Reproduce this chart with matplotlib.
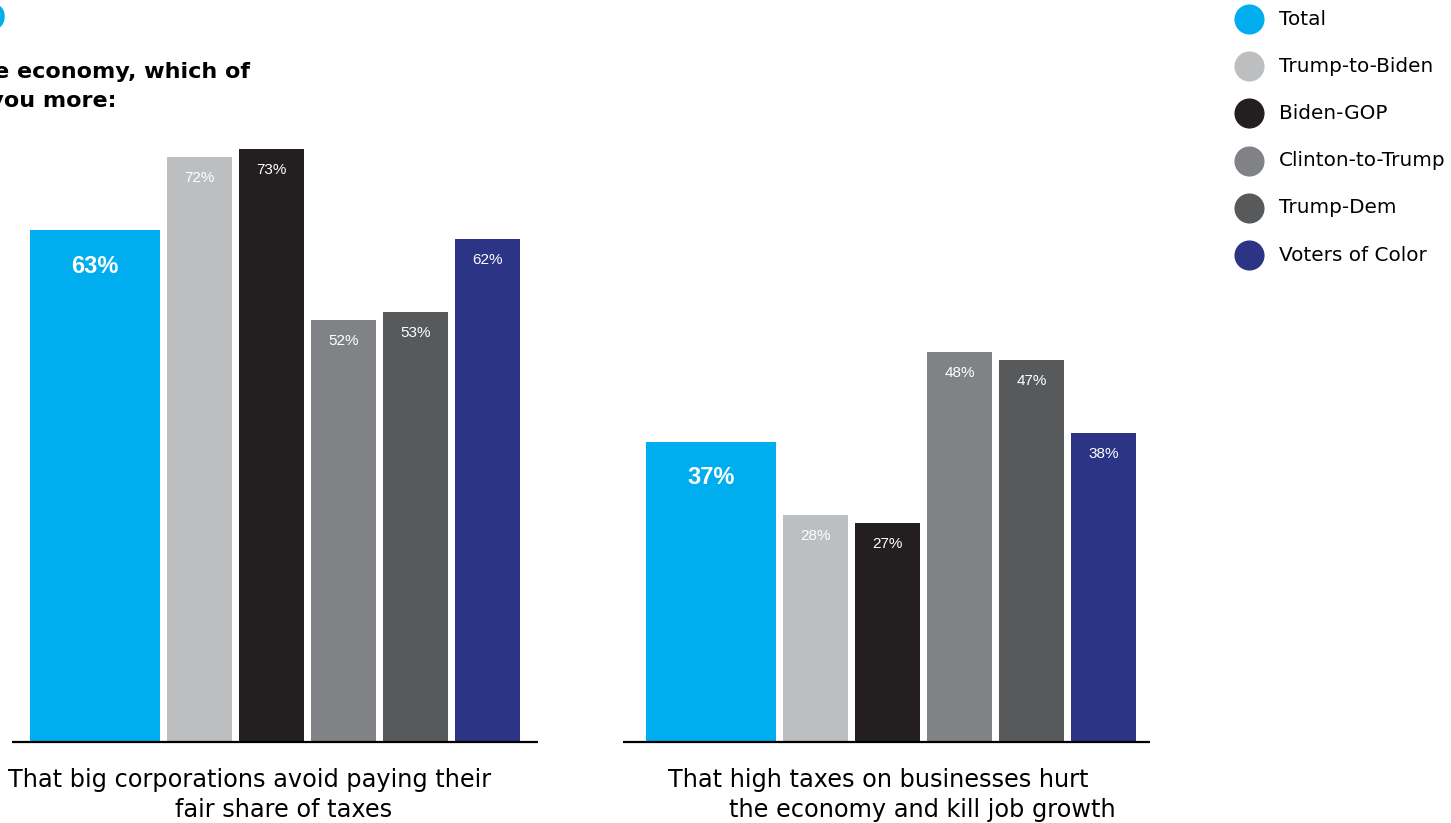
import numpy as np
import matplotlib
matplotlib.use("Agg")
import matplotlib.pyplot as plt

# Survey results (percent)
groups = ["Total", "Trump-to-Biden", "Biden-GOP", "Clinton-to-Trump", "Trump-Dem", "Voters of Color"]
colors = ["#00AEEF", "#BCBEC0", "#231F20", "#808285", "#58595B", "#2B3485"]
corporations = [63, 72, 73, 52, 53, 62]
business_taxes = [37, 28, 27, 48, 47, 38]
statements = [
    ["That big corporations avoid paying their", "fair share of taxes"],
    ["That high taxes on businesses hurt", "the economy and kill job growth"],
]
title_lines = ["On the economy, which of", "these worries you more:"]

W, H = 1451, 823
fig = plt.figure(figsize=(W / 100, H / 100), dpi=100)
ax = fig.add_axes([0, 0, 1, 1])
# x in pixels, y in percent (baseline at pixel row 742, 8.12 px per point)
base, ppp = 742, 8.12
ax.set_xlim(0, W)
ax.set_ylim(-(H - base) / ppp, base / ppp)
ax.axis("off")

label_font = "DejaVu Sans"
num_font = "Liberation Sans"

def draw_group(x0, values, axis_span, lines, line_x):
    widths = [130] + [65] * 5
    lefts = [x0]
    for w in widths[:-1]:
        lefts.append(lefts[-1] + w + 7)
    ax.bar(lefts, values, width=widths, align="edge", color=colors, zorder=2)
    for i, (l, w, v) in enumerate(zip(lefts, widths, values)):
        if i == 0:
            ax.text(l + w / 2, v - 36 / ppp, f"{v}%", ha="center", va="center",
                    color="white", fontsize=17, fontweight="bold", family=num_font)
        else:
            ax.text(l + w / 2, v - 21 / ppp, f"{v}%", ha="center", va="center",
                    color="white", fontsize=11, family=num_font)
    ax.plot(axis_span, [0, 0], color="black", lw=1.6, zorder=3, solid_capstyle="butt")
    for k, (txt, lx) in enumerate(zip(lines, line_x)):
        ax.text(lx, -(780 + 30 * k - base) / ppp, txt, ha="left", va="center",
                fontsize=17.3, family=label_font, color="black")

draw_group(30, corporations, [12, 538], statements[0], [8, 175])
draw_group(646, business_taxes, [623, 1150], statements[1], [668, 729])

# Title, running off the left edge
ax.text(250, (base - 72) / ppp, title_lines[0], ha="right", va="center",
        fontsize=16, fontweight="bold", family=label_font)
ax.text(117, (base - 101) / ppp, title_lines[1], ha="right", va="center",
        fontsize=16, fontweight="bold", family=label_font)
ax.text(7, (base - 14) / ppp, "6", ha="right", va="center", fontsize=40,
        fontweight="bold", color="#00AEEF", family=label_font)

# Legend with round swatches
for i, (g, c) in enumerate(zip(groups, colors)):
    y = (base - (19 + 47.2 * i)) / ppp
    ax.scatter([1249], [y], s=470, color=c, zorder=3, linewidths=0)
    ax.text(1279, y, g, ha="left", va="center", fontsize=14.4, family=label_font)

fig.savefig("out.png", dpi=100)
